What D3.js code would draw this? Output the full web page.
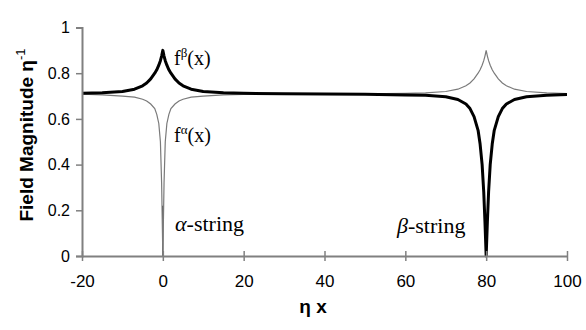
<!DOCTYPE html>
<html>
<head>
<meta charset="utf-8">
<script src="https://cdn.jsdelivr.net/npm/d3@7"></script>
<style>
  body { margin: 0; background: #fff; }
  svg { display: block; }
</style>
</head>
<body>
<div id="chart"></div>
<script>
var width = 586;
var height = 330;

// eta x positions (shared by both series)
var xs = [-20, -15, -10, -7, -5, -4, -3, -2, -1.5, -1, -0.6, -0.3, 0,
  0.3, 0.6, 1, 1.5, 2, 3, 4, 5, 7, 10, 15, 20,
  30, 40, 50,
  60, 65, 70, 73, 75, 76, 77, 78, 78.5, 79, 79.4, 79.7, 80,
  80.3, 80.6, 81, 81.5, 82, 83, 84, 85, 87, 90, 95, 100];

// f beta (thick black): peak at the alpha-string, dip at the beta-string
var fBeta = [0.712, 0.714, 0.72, 0.73, 0.745, 0.757, 0.775, 0.80, 0.815, 0.835, 0.855, 0.875, 0.90,
  0.875, 0.855, 0.835, 0.815, 0.80, 0.775, 0.757, 0.745, 0.73, 0.72, 0.714, 0.712,
  0.71, 0.709, 0.708,
  0.705, 0.703, 0.697, 0.685, 0.665, 0.645, 0.61, 0.55, 0.49, 0.40, 0.28, 0.15, 0,
  0.15, 0.28, 0.40, 0.49, 0.55, 0.61, 0.645, 0.665, 0.685, 0.697, 0.703, 0.707];

// f alpha (thin grey): dip at the alpha-string, peak at the beta-string
var fAlpha = [0.708, 0.705, 0.70, 0.695, 0.686, 0.678, 0.665, 0.645, 0.62, 0.58, 0.50, 0.32, 0,
  0.32, 0.50, 0.58, 0.62, 0.645, 0.665, 0.678, 0.686, 0.695, 0.70, 0.705, 0.707,
  0.708, 0.709, 0.71,
  0.712, 0.714, 0.72, 0.73, 0.745, 0.757, 0.775, 0.80, 0.815, 0.835, 0.855, 0.875, 0.90,
  0.875, 0.855, 0.835, 0.815, 0.80, 0.775, 0.757, 0.745, 0.73, 0.72, 0.714, 0.711];

var xTicks = [-20, 0, 20, 40, 60, 80, 100];
var yTicks = [0, 0.2, 0.4, 0.6, 0.8, 1];
// string cores: position and height of the thin black marker
var stringPos = [0, 80];
var stringTop = [0.22, 0.12];

var x = d3.scaleLinear().domain([-20, 100]).range([82, 567]);
var y = d3.scaleLinear().domain([0, 1]).range([256, 27.5]);

var svg = d3.select("#chart").append("svg")
  .attr("width", width)
  .attr("height", height);

// thin black verticals at the string cores
svg.selectAll(".core")
  .data(stringPos)
  .enter().append("line")
  .attr("class", "core")
  .attr("x1", d => x(d)).attr("x2", d => x(d))
  .attr("y1", y(0)).attr("y2", (d, i) => y(stringTop[i]))
  .attr("stroke", "#000")
  .attr("stroke-width", 1);

var line = d3.line()
  .x((d, i) => x(xs[i]))
  .y(d => y(d));

svg.append("path")
  .datum(fAlpha)
  .attr("d", line)
  .attr("fill", "none")
  .attr("stroke", "#7a7a7a")
  .attr("stroke-width", 1.2);

svg.append("path")
  .datum(fBeta)
  .attr("d", line)
  .attr("fill", "none")
  .attr("stroke", "#000")
  .attr("stroke-width", 3)
  .attr("stroke-linejoin", "round");

// axes
var xAxis = d3.axisBottom(x).tickValues(xTicks).tickSize(0).tickPadding(19)
  .tickFormat(d => String(d));
var yAxis = d3.axisLeft(y).tickValues(yTicks).tickSize(6).tickPadding(6)
  .tickFormat(d => String(d));

var gx = svg.append("g")
  .attr("transform", "translate(0," + y(0) + ")")
  .call(xAxis);
gx.selectAll(".tick").append("line")
  .attr("y1", -5).attr("y2", 5)
  .attr("stroke", "#808080").attr("stroke-width", 1.5);

var gy = svg.append("g")
  .attr("transform", "translate(" + x(-20) + ",0)")
  .call(yAxis);

svg.selectAll(".domain")
  .attr("stroke", "#808080")
  .attr("stroke-width", 2);
gy.selectAll(".tick line")
  .attr("stroke", "#808080").attr("stroke-width", 1.5);
svg.selectAll(".tick text")
  .attr("font-family", "Liberation Sans, Arial, sans-serif")
  .attr("font-size", "16px")
  .attr("fill", "#000");
gx.selectAll(".tick text").attr("font-size", "17px");

// axis titles
svg.append("text")
  .attr("x", 313)
  .attr("y", 313)
  .attr("text-anchor", "middle")
  .attr("font-family", "Liberation Sans, Arial, sans-serif")
  .attr("font-weight", "bold")
  .attr("font-size", "19px")
  .text("η x");

var ytitle = svg.append("text")
  .attr("transform", "translate(33,135) rotate(-90)")
  .attr("text-anchor", "middle")
  .attr("font-family", "Liberation Sans, Arial, sans-serif")
  .attr("font-weight", "bold")
  .attr("font-size", "19px");
ytitle.append("tspan").text("Field Magnitude η");
ytitle.append("tspan").attr("dy", -8).attr("font-size", "13px").attr("font-weight", "normal").text("-1");

// curve and string labels
function fLabel(xp, yp, sup) {
  var t = svg.append("text")
    .attr("x", xp).attr("y", yp)
    .attr("font-family", "Liberation Serif, Times New Roman, serif")
    .attr("font-size", "20px");
  t.append("tspan").text("f");
  t.append("tspan").attr("dy", -8).attr("font-size", "13px").text(sup);
  t.append("tspan").attr("dy", 8).text("(x)");
}
fLabel(174, 65, "β");
fLabel(174, 142, "α");

svg.append("text")
  .attr("x", 175).attr("y", 231)
  .attr("font-family", "Liberation Serif, Times New Roman, serif")
  .attr("font-size", "22px")
  .html("<tspan font-style='italic'>α</tspan>-string");

svg.append("text")
  .attr("x", 397).attr("y", 233)
  .attr("font-family", "Liberation Serif, Times New Roman, serif")
  .attr("font-size", "22px")
  .html("<tspan font-style='italic'>β</tspan>-string");
</script>
</body>
</html>
